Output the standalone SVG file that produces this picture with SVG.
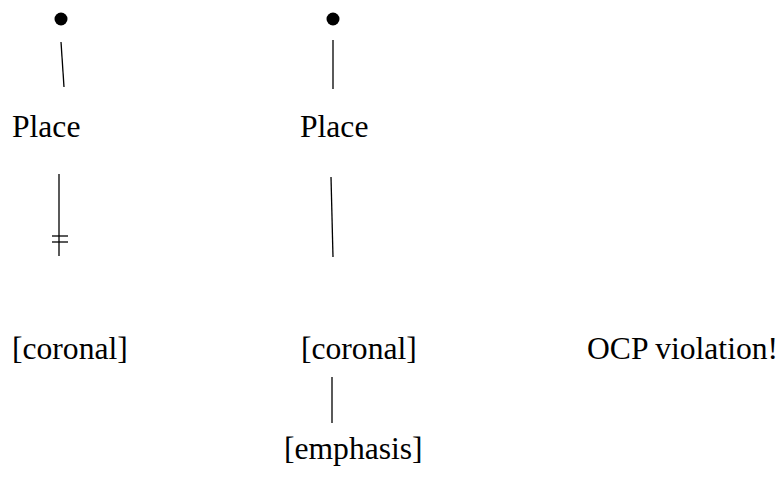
<svg xmlns="http://www.w3.org/2000/svg" width="783" height="478" viewBox="0 0 783 478">
<style>
text { font-family: "Liberation Serif", "Times New Roman", serif; font-size: 31.6px; fill: #000; }
line { stroke: #000; stroke-width: 1.3; }
.dot { fill: #000; }
</style>
<rect width="783" height="478" fill="#fff"/>
<g id="dot1"><circle class="dot" cx="61" cy="19" r="6.5"/></g>
<g id="dot2"><circle class="dot" cx="333" cy="19" r="6.5"/></g>
<g id="place1"><text x="12" y="137">Place</text></g>
<g id="place2"><text x="300" y="137">Place</text></g>
<g id="coronal1"><text x="12" y="359">[coronal]</text></g>
<g id="coronal2"><text x="301" y="359">[coronal]</text></g>
<g id="emphasis"><text x="284" y="459">[emphasis]</text></g>
<g id="ocp"><text x="587" y="359">OCP violation!</text></g>
<g id="connectors">
<line x1="61" y1="42" x2="64" y2="87"/>
<line x1="333" y1="40" x2="333" y2="89"/>
<line x1="59" y1="174" x2="59" y2="256"/>
<line x1="52" y1="236" x2="68" y2="236"/>
<line x1="52" y1="242" x2="68" y2="242"/>
<line x1="331" y1="177" x2="333" y2="257"/>
<line x1="332" y1="377" x2="332" y2="423"/>
</g>
</svg>
